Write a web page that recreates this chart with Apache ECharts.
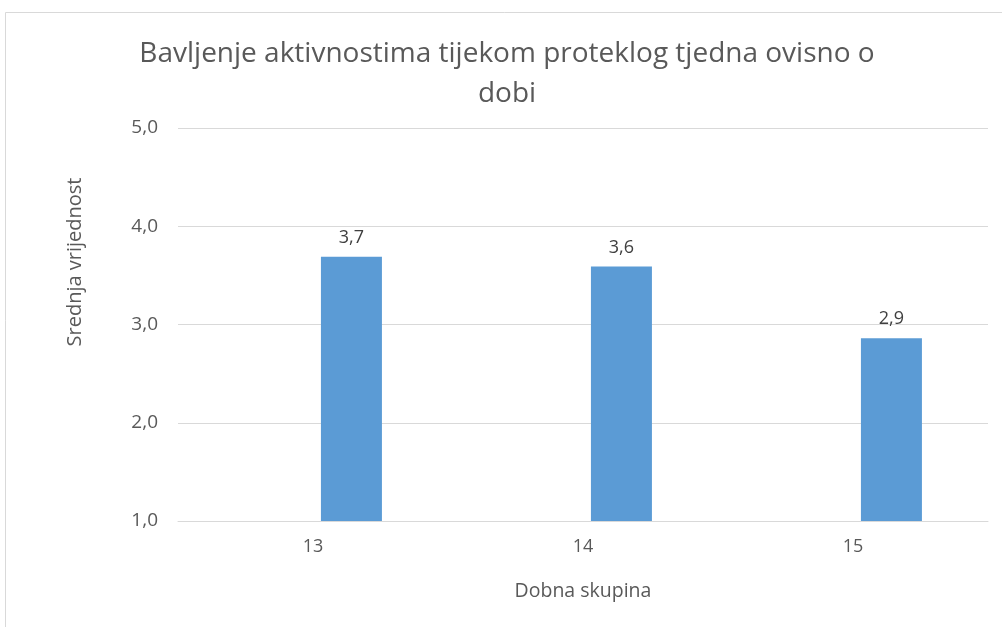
<!DOCTYPE html>
<html>
<head>
<meta charset="utf-8">
<script src="https://cdn.jsdelivr.net/npm/echarts@6/dist/echarts.min.js"></script>
<style>html,body{margin:0;padding:0;background:#fff;}#c{width:1002px;height:627px;}</style>
</head>
<body>
<div id="c"></div>
<script>
const categories = ['13', '14', '15'];
const values = [3.69, 3.59, 2.86];
const yTicks = { min: 1, max: 5, interval: 1 };
const titleText = 'Bavljenje aktivnostima tijekom proteklog tjedna ovisno o\ndobi';
const xName = 'Dobna skupina';
const yName = 'Srednja vrijednost';

const fmt = v => v.toFixed(1).replace('.', ',');
const chart = echarts.init(document.getElementById('c'), null, { renderer: 'canvas' });
const FONT = 'Open Sans';
chart.setOption({
  animation: false,
  backgroundColor: '#fff',
  textStyle: { fontFamily: FONT },
  title: {
    text: titleText,
    left: 502, textAlign: 'center', top: 29,
    textStyle: { fontFamily: FONT, fontSize: 28, fontWeight: 'normal', color: '#595959', lineHeight: 40 }
  },
  graphic: [
    { type: 'rect', shape: { x: 5.5, y: 12.5, width: 1010, height: 640 }, style: { fill: 'none', stroke: '#d9d9d9', lineWidth: 1 }, silent: true },
    { type: 'text', x: 75, y: 262, rotation: Math.PI / 2, style: { text: yName, fontFamily: FONT, fontSize: 20, fill: '#595959', textAlign: 'center', textVerticalAlign: 'middle' } }
  ],
  grid: { left: 178, right: 14, top: 128, bottom: 106, containLabel: false },
  xAxis: {
    type: 'category', data: categories,
    name: xName, nameLocation: 'middle', nameGap: 60,
    nameTextStyle: { fontFamily: FONT, fontSize: 19.5, color: '#595959' },
    axisLine: { show: true, lineStyle: { color: '#d9d9d9', width: 1 } },
    axisTick: { show: false },
    axisLabel: { fontFamily: FONT, fontSize: 18, color: '#595959', margin: 17 }
  },
  yAxis: {
    type: 'value', min: yTicks.min, max: yTicks.max, interval: yTicks.interval,
    axisLine: { show: false }, axisTick: { show: false },
    splitLine: { lineStyle: { color: '#d9d9d9', width: 1 } },
    axisLabel: { fontFamily: FONT, fontSize: 19, color: '#595959', margin: 20, formatter: v => fmt(v) }
  },
  series: [
    { type: 'bar', data: categories.map(() => null), barWidth: 61, barGap: '26%' },
    {
      type: 'bar', data: values, barWidth: 61, barGap: '26%',
      itemStyle: { color: '#5b9bd5' },
      label: { show: true, position: 'top', distance: 10, fontFamily: FONT, fontSize: 18, color: '#404040', formatter: p => fmt(p.value) }
    }
  ]
});
</script>
</body>
</html>
